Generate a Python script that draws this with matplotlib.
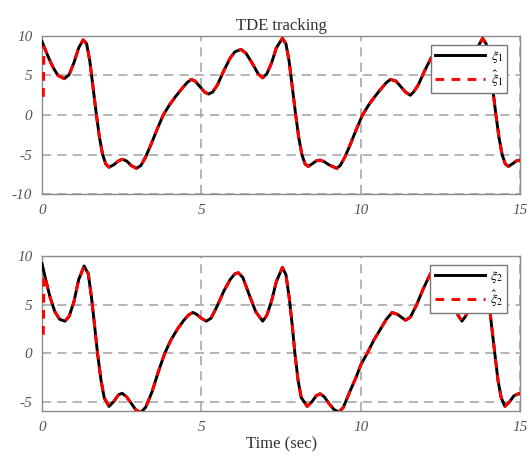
import numpy as np
import matplotlib.pyplot as plt

# xi_1 (true state)
t1 = [0.00, 0.10, 0.20, 0.35, 0.50, 0.70, 0.85, 1.00, 1.15, 1.29, 1.40, 1.50, 1.60, 1.70,
      1.80, 1.90, 2.00, 2.10, 2.25, 2.40, 2.51, 2.65, 2.80, 2.96, 3.10, 3.25, 3.40, 3.60,
      3.80, 4.00, 4.20, 4.40, 4.55, 4.68, 4.80, 4.95, 5.10, 5.22, 5.35, 5.50, 5.70, 5.90,
      6.05, 6.24, 6.40, 6.60, 6.78, 6.92, 7.05, 7.20, 7.35, 7.54, 7.65, 7.75, 7.85, 7.95,
      8.05, 8.15, 8.25, 8.35, 8.50, 8.60, 8.72, 8.85, 9.00, 9.24, 9.35, 9.50, 9.65, 9.85,
      10.05, 10.25, 10.45, 10.65, 10.80, 10.93, 11.10, 11.25, 11.40, 11.55, 11.65, 11.80,
      12.00, 12.20, 12.35, 12.52, 12.70, 12.90, 13.05, 13.20, 13.35, 13.50, 13.65, 13.82,
      13.93, 14.03, 14.13, 14.23, 14.33, 14.43, 14.53, 14.63, 14.78, 14.88, 15.00]
xi1 = [9.3, 8.3, 7.3, 6.0, 5.0, 4.6, 5.1, 6.6, 8.5, 9.5, 9.0, 6.8, 3.5, 0.2,
       -2.8, -5.0, -6.2, -6.6, -6.3, -5.8, -5.6, -5.8, -6.4, -6.75, -6.4, -5.3, -3.9, -1.9,
       0.0, 1.3, 2.4, 3.4, 4.1, 4.5, 4.3, 3.6, 2.9, 2.65, 2.9, 3.8, 5.6, 7.2,
       8.0, 8.3, 7.8, 6.5, 5.2, 4.7, 5.2, 6.6, 8.5, 9.7, 9.0, 6.8, 3.5, 0.2,
       -2.8, -5.0, -6.2, -6.5, -6.1, -5.8, -5.7, -5.9, -6.3, -6.75, -6.4, -5.3, -3.9, -1.9,
       0.0, 1.3, 2.4, 3.4, 4.1, 4.5, 4.3, 3.6, 2.9, 2.5, 2.9, 3.8,
       5.6, 7.2, 8.0, 8.3, 7.8, 6.5, 5.2, 4.7, 5.2, 6.6, 8.5, 9.7,
       9.0, 6.8, 3.5, 0.2, -2.8, -5.0, -6.2, -6.5, -6.1, -5.8, -5.7]

# xi_2 (true state)
t2 = [0.00, 0.10, 0.25, 0.40, 0.55, 0.72, 0.85, 1.00, 1.15, 1.32, 1.45, 1.55, 1.65, 1.74,
      1.85, 1.95, 2.10, 2.25, 2.40, 2.51, 2.65, 2.80, 2.95, 3.10, 3.25, 3.45, 3.65, 3.85,
      4.05, 4.25, 4.45, 4.60, 4.73, 4.85, 5.00, 5.15, 5.30, 5.50, 5.70, 5.90, 6.05, 6.16,
      6.30, 6.50, 6.70, 6.92, 7.05, 7.20, 7.35, 7.54, 7.65, 7.75, 7.85, 7.93, 8.03, 8.13,
      8.32, 8.47, 8.60, 8.72, 8.85, 9.00, 9.15, 9.31, 9.45, 9.65, 9.85, 10.00, 10.20,
      10.40, 10.60, 10.80, 10.98, 11.15, 11.40, 11.55, 11.75, 11.95, 12.18, 12.35, 12.50,
      12.70, 12.90, 13.05, 13.17, 13.30, 13.45, 13.60, 13.80, 13.90, 14.00, 14.10, 14.20,
      14.30, 14.40, 14.52, 14.67, 14.80, 14.94, 15.00]
xi2 = [9.25, 7.8, 5.8, 4.3, 3.5, 3.3, 3.8, 5.3, 7.6, 9.0, 8.2, 5.8, 2.8, 0.0,
       -2.8, -4.6, -5.5, -5.0, -4.3, -4.15, -4.5, -5.2, -5.9, -6.1, -5.6, -4.0, -1.9, 0.0,
       1.4, 2.5, 3.4, 3.95, 4.2, 4.0, 3.6, 3.3, 3.6, 4.9, 6.4, 7.6, 8.2, 8.3,
       7.8, 6.0, 4.3, 3.3, 3.9, 5.4, 7.4, 8.85, 8.1, 5.8, 2.8, 0.0, -2.8, -4.6,
       -5.5, -5.0, -4.4, -4.2, -4.5, -5.2, -5.8, -6.1, -5.6, -4.0, -2.5, -1.2, 0.0,
       1.3, 2.4, 3.5, 4.2, 4.0, 3.4, 3.7, 5.0, 6.6, 8.2, 8.6, 8.5,
       7.6, 5.6, 3.9, 3.3, 3.9, 5.4, 7.4, 8.85, 8.1, 5.8, 2.8, 0.0,
       -2.8, -4.6, -5.5, -5.0, -4.4, -4.2, -4.2]

# estimates: start from a wrong value, then follow the state
t_start = [0.04, 0.06]
xi1_hat_start = [2.3, 8.6]
xi2_hat_start = [1.9, 8.0]

t1_hat = t_start + t1[1:]
xi1_hat = xi1_hat_start + xi1[1:]
t2_hat = t_start + t2[1:]
xi2_hat = xi2_hat_start + xi2[1:]

plt.rcParams['font.family'] = ['Liberation Serif', 'DejaVu Serif']
plt.rcParams['mathtext.fontset'] = 'stix'
plt.rcParams['axes.unicode_minus'] = False

fig = plt.figure(figsize=(5.32, 4.61), dpi=100)
ax1 = fig.add_axes([0.079, 0.579, 0.899, 0.343])
ax2 = fig.add_axes([0.079, 0.108, 0.899, 0.336])

panels = [
    (ax1, t1, xi1, t1_hat, xi1_hat, (-10, 10), [-10, -5, 0, 5, 10], '1'),
    (ax2, t2, xi2, t2_hat, xi2_hat, (-6, 10), [-5, 0, 5, 10], '2'),
]

for ax, t, x, th, xh, ylim, yticks, k in panels:
    ax.plot(t, x, color='black', lw=2.1, label=r'$\xi_%s$' % k, zorder=3)
    ax.plot(th, xh, color='red', lw=2.1, ls=(0, (3, 2.5)), label=r'$\hat{\xi}_%s$' % k,
            zorder=3.1)
    ax.set_xlim(0, 15)
    ax.set_ylim(*ylim)
    ax.set_xticks([0, 5, 10, 15])
    ax.set_yticks(yticks)
    ax.grid(True, color='#a0a0a0', ls=(0, (6, 4)), lw=1.1)
    for s in ax.spines.values():
        s.set_color('#8a8a8a')
        s.set_linewidth(1.0)
    ax.tick_params(length=0, labelsize=11, labelcolor='#555555', pad=7)
    for lab in ax.get_xticklabels() + ax.get_yticklabels():
        lab.set_fontstyle('italic')
    leg = ax.legend(loc='upper right', bbox_to_anchor=(0.973, 0.943), borderaxespad=0,
                    fontsize=10, handlelength=3.6, borderpad=0.3, labelspacing=0.25,
                    handletextpad=0.4, fancybox=False, framealpha=1.0)
    leg.get_frame().set_edgecolor('#777777')
    leg.get_frame().set_linewidth(1.0)

ax1.set_title('TDE tracking', fontsize=12, color='#333333', pad=4)
ax2.set_xlabel('Time (sec)', fontsize=12, color='#333333', labelpad=2)

plt.savefig('out.png', dpi=100)
